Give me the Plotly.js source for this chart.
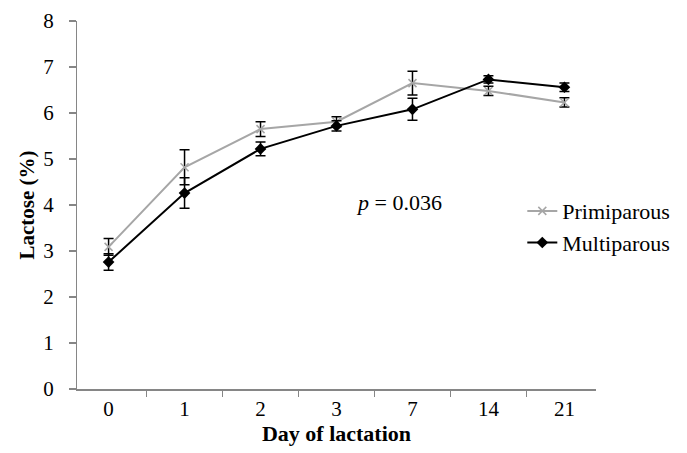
<!DOCTYPE html>
<html>
<head>
<meta charset="utf-8">
<script src="https://cdn.plot.ly/plotly-3.0.1.min.js"></script>
<style>html,body{margin:0;padding:0;background:#fff;}#chart{width:687px;height:453px;}</style>
</head>
<body>
<div id="chart"></div>
<script>
const days = ["0", "1", "2", "3", "7", "14", "21"];
const primiparous = [3.09, 4.82, 5.65, 5.81, 6.65, 6.48, 6.23];
const primiparousSE = [0.18, 0.38, 0.16, 0.11, 0.26, 0.10, 0.10];
const multiparous = [2.76, 4.26, 5.22, 5.72, 6.08, 6.73, 6.56];
const multiparousSE = [0.18, 0.33, 0.15, 0.11, 0.24, 0.08, 0.09];

const font = "Liberation Serif";

const traces = [
  {
    x: days, y: primiparous, name: "Primiparous", type: "scatter", mode: "lines+markers",
    line: {color: "#a6a6a6", width: 2},
    marker: {symbol: "x-thin", size: 8, line: {color: "#a6a6a6", width: 1.5}, color: "#a6a6a6"},
    error_y: {type: "data", array: primiparousSE, visible: true, color: "#000", thickness: 1.5, width: 5}
  },
  {
    x: days, y: multiparous, name: "Multiparous", type: "scatter", mode: "lines+markers",
    line: {color: "#000", width: 2},
    marker: {symbol: "diamond", size: 9, color: "#000"},
    error_y: {type: "data", array: multiparousSE, visible: true, color: "#000", thickness: 1.5, width: 5}
  }
];

const layout = {
  width: 687, height: 453,
  margin: {l: 77, r: 83, t: 21, b: 64},
  paper_bgcolor: "#fff", plot_bgcolor: "#fff",
  font: {family: font, size: 21, color: "#000"},
  showlegend: true,
  legend: {x: 0.858, y: 0.44, xanchor: "left", yanchor: "middle", font: {family: font, size: 22, color: "#000"},
           bgcolor: "rgba(0,0,0,0)", itemwidth: 30},
  xaxis: {
    type: "category", tickson: "boundaries", showline: true, linecolor: "#868686", linewidth: 1.5,
    ticks: "outside", ticklen: 6, tickcolor: "#868686", tickwidth: 1.5,
    showgrid: false, zeroline: false, fixedrange: true,
    tickfont: {family: font, size: 21},
    title: {text: "<b>Day of lactation</b>", font: {family: font, size: 22}, standoff: 3}
  },
  yaxis: {
    range: [0, 8], dtick: 1, showline: true, linecolor: "#868686", linewidth: 1.5,
    ticks: "outside", ticklen: 7, tickcolor: "#868686", tickwidth: 1.5,
    ticksuffix: "\u00a0\u00a0",
    showgrid: false, zeroline: false,
    tickfont: {family: font, size: 21},
    title: {text: "<b>Lactose (%)</b>", font: {family: font, size: 21}, standoff: 3}
  },
  annotations: [
    {xref: "paper", yref: "y", x: (358 - 77) / 527, y: 4.05, xanchor: "left", yanchor: "middle",
     text: "<i>p</i> = 0.036", showarrow: false, font: {family: font, size: 22, color: "#000"}}
  ]
};

Plotly.newPlot("chart", traces, layout, {displayModeBar: false, staticPlot: true});
</script>
</body>
</html>
